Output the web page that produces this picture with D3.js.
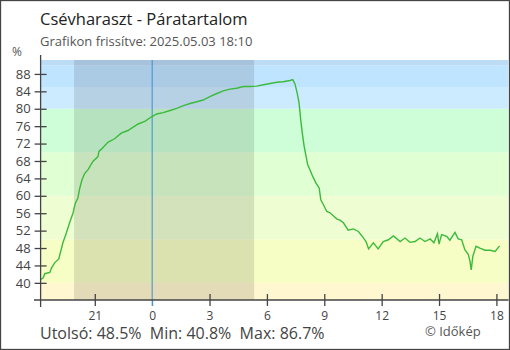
<!DOCTYPE html>
<html><head><meta charset="utf-8">
<script src="https://cdn.jsdelivr.net/npm/d3@7"></script>
<style>
html,body{margin:0;padding:0;background:#fff;}
svg{display:block;font-family:"Open Sans",sans-serif;}
</style></head>
<body>
<svg id="c" width="510" height="350"></svg>
<script>
// minutes relative to midnight (negative = previous evening)
const minutes = [-350,-342,-337,-321,-316,-306,-293,-287,-280,-269,-259,-248,-241,-233,-227,-220,-212,-201,-186,-170,-167,-154,-139,-118,-97,-76,-44,-23,-3,14,35,56,77,98,119,140,160,181,203,223,244,265,286,307,328,349,370,391,411,432,441,448,455,461,466,471,477,483,488,495,504,514,524,529,537,548,558,570,579,589,600,615,631,647,661,671,679,694,709,725,741,757,778,793,809,825,840,856,872,884,895,900,908,924,934,950,960,971,981,992,997,1001,1006,1016,1028,1044,1060,1076,1090];
const humidity = [40.8,41.1,42.1,42.4,43.4,44.6,45.5,47.2,49.2,51.5,53.8,56.1,58.3,59.5,61.8,63.7,65.1,66.0,67.9,69.0,70.2,71.1,72.3,73.1,74.4,75.0,76.5,77.1,78.1,78.8,79.1,79.6,80.1,80.7,81.2,81.6,82.0,82.8,83.5,84.1,84.5,84.7,85.1,85.1,85.2,85.5,85.8,86.1,86.2,86.5,86.7,85.7,83.6,81.3,77.5,74.4,71.3,69.0,67.1,66.0,64.4,62.9,61.8,59.1,58.0,56.4,56.1,55.3,54.7,54.4,53.8,52.1,52.4,51.8,50.5,49.5,47.8,49.2,47.8,49.5,49.9,50.8,49.5,50.3,49.3,49.5,50.3,49.5,50.1,49.2,51.3,48.9,51.1,50.7,49.8,51.6,50.1,49.9,47.6,46.5,45.0,43.0,46.1,48.4,48.0,47.5,47.5,47.2,48.5];
const yTicks = [40,44,48,52,56,60,64,68,72,76,80,84,88];
const xTickHours = [-3,0,3,6,9,12,15,18];
const xTickLabels = ["21","0","3","6","9","12","15","18"];
const bandLimits = [30,40,50,60,70,80,85,90,100];
const bandColors = ["#fff7cf","#f7fec5","#effed2","#e0ffd3","#cdfed7","#cdebff","#bfe4ff","#bcdcf6"];
const nightStart = -245, nightEnd = 320; // minutes
const stats = "Utolsó: 48.5%  Min: 40.8%  Max: 86.7%";

const svg = d3.select("#c");
const L = 40.6, R = 508.5, T = 60, B = 300;
const x = d3.scaleLinear().domain([-350, 1090]).range([40.6, 499.6]);
const y = d3.scaleLinear().domain([36.06, 91.2]).range([B, T]);

const plot = svg.append("g");
plot.append("defs").append("clipPath").attr("id","pc").append("rect")
  .attr("x",L).attr("y",T).attr("width",R-L).attr("height",B-T);
const bg = plot.append("g").attr("clip-path","url(#pc)");
bandColors.forEach((c,i)=>{
  const y0 = y(bandLimits[i+1]), y1 = y(bandLimits[i]);
  bg.append("rect").attr("x",L).attr("width",R-L).attr("y",y0).attr("height",y1-y0).attr("fill",c);
});
bg.append("rect").attr("x",x(nightStart)).attr("width",x(nightEnd)-x(nightStart))
  .attr("y",T).attr("height",B-T).attr("fill","rgba(0,0,0,0.11)");

// midnight line
svg.append("line").attr("x1",x(0)).attr("x2",x(0)).attr("y1",T).attr("y2",B+6)
  .attr("stroke","#3a8fd0").attr("stroke-width",1);

// data line
const pts = minutes.map((m,i)=>[m,humidity[i]]);
svg.append("path").datum(pts)
  .attr("fill","none").attr("stroke","#3cba3c").attr("stroke-width",1.4)
  .attr("d", d3.line().x(d=>x(d[0])).y(d=>y(d[1])));

// y axis
const yAxis = svg.append("g").attr("transform",`translate(${L},0)`)
  .call(d3.axisLeft(y).tickValues(yTicks).tickSize(6).tickPadding(8));
yAxis.select(".domain").remove();
yAxis.selectAll(".tick line").attr("x1",-6).attr("x2",6).attr("stroke","#444").attr("stroke-width",1.3);
yAxis.selectAll(".tick text").attr("x",-10).attr("font-size",13).attr("fill","#444").attr("font-family","Open Sans");
svg.append("line").attr("x1",L).attr("x2",L).attr("y1",55).attr("y2",B+7).attr("stroke","#444").attr("stroke-width",1.3);

// x axis
const xAxis = svg.append("g").attr("transform",`translate(0,${B})`)
  .call(d3.axisBottom(x).tickValues(xTickHours.map(h=>h*60)).tickFormat((d,i)=>xTickLabels[i]).tickSize(6).tickPadding(6));
xAxis.select(".domain").remove();
xAxis.selectAll(".tick line").attr("y1",-6).attr("y2",6).attr("stroke","#444").attr("stroke-width",1.3);
xAxis.selectAll(".tick").filter(d=>d===0).select("line").attr("y1",0).attr("stroke","#3a8fd0").attr("stroke-width",1);
xAxis.selectAll(".tick text").attr("y",11).attr("font-size",12).attr("fill","#444").attr("font-family","Open Sans");
svg.append("line").attr("x1",34).attr("x2",R).attr("y1",B).attr("y2",B).attr("stroke","#444").attr("stroke-width",1.3);

// texts
svg.append("text").attr("x",40).attr("y",25).attr("font-size",16.5).attr("fill","#222").text("Csévharaszt - Páratartalom");
svg.append("text").attr("x",40).attr("y",46).attr("font-size",13).attr("fill","#555").text("Grafikon frissítve: 2025.05.03 18:10");
svg.append("text").attr("x",12).attr("y",56).attr("font-size",12).attr("fill","#555").text("%");
svg.append("text").attr("x",40).attr("y",339).attr("font-size",16).attr("fill","#444").attr("xml:space","preserve").style("white-space","pre").text(stats);
svg.append("text").attr("x",425).attr("y",336).attr("font-size",13).attr("fill","#555").text("© Időkép");

// frame
svg.append("rect").attr("x",0.5).attr("y",0.5).attr("width",509).attr("height",349)
  .attr("fill","none").attr("stroke","#444").attr("stroke-width",1.3);
</script>
</body></html>
